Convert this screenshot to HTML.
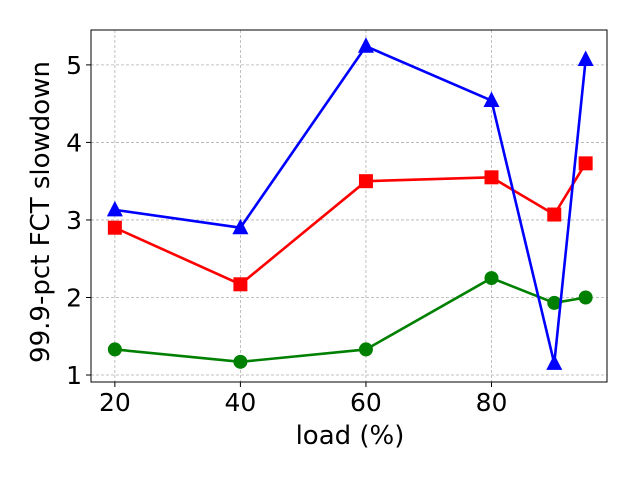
<!DOCTYPE html>
<html><head><meta charset="utf-8"><style>
body{margin:0;background:#fff;}
svg{display:block;font-family:"DejaVu Sans","Liberation Sans",sans-serif;}
</style></head><body>
<svg id="chart" width="640" height="480"></svg>
<script>
const loads=[20,40,60,80,90,95];
const blueSeries=[3.13,2.90,5.24,4.54,1.15,5.07];
const redSeries=[2.90,2.17,3.50,3.55,3.07,3.73];
const greenSeries=[1.33,1.17,1.33,2.25,1.93,2.00];
const xTicks=[20,40,60,80];
const yTicks=[1,2,3,4,5];

const L=91,R=607,T=30,B=382;
const xMin=16.2,xMax=98.4,yMin=0.91,yMax=5.45;
const xs=v=>L+(v-xMin)/(xMax-xMin)*(R-L);
const ys=v=>B-(v-yMin)/(yMax-yMin)*(B-T);
const svg=document.getElementById('chart');
const NS='http://www.w3.org/2000/svg';
function mk(tag,attrs,parent){const e=document.createElementNS(NS,tag);for(const k in attrs)e.setAttribute(k,attrs[k]);(parent||svg).appendChild(e);return e;}

const grid=mk('g',{});


xTicks.forEach(t=>{
  const l=mk('line',{x1:xs(t),x2:xs(t),y1:T,y2:B,stroke:'#b0b0b0','stroke-width':0.8,'stroke-dasharray':'3,2'},grid);
  
  
  const tk=mk('line',{x1:xs(t),x2:xs(t),y1:B,y2:B+5,stroke:'#000'});
  
  
  const tx=mk('text',{x:xs(t),y:B+29,'text-anchor':'middle','font-size':25});
  tx.textContent=t;
  
  
});
yTicks.forEach(t=>{
  const l=mk('line',{x1:L,x2:R,y1:ys(t),y2:ys(t),stroke:'#b0b0b0','stroke-width':0.8,'stroke-dasharray':'3,2'},grid);
  
  
  const tk=mk('line',{x1:L-5,x2:L,y1:ys(t),y2:ys(t),stroke:'#000'});
  
  
  const tx=mk('text',{x:L-9,y:ys(t)+9,'text-anchor':'end','font-size':25});
  tx.textContent=t;
  
  
});
const frame=mk('rect',{x:L,y:T,width:R-L,height:B-T,fill:'none',stroke:'#000','stroke-width':1});



function series(vals,color,marker,name){
  const g=mk('g',{});
  
  
  const pts=vals.map((v,i)=>xs(loads[i])+','+ys(v)).join(' ');
  const pl=mk('polyline',{points:pts,fill:'none',stroke:color,'stroke-width':2.6},g);
  
  
  vals.forEach((v,i)=>{
    const x=xs(loads[i]),y=ys(v);let m;
    if(marker==='circle')m=mk('circle',{cx:x,cy:y,r:7,fill:color},g);
    else if(marker==='square')m=mk('rect',{x:x-7,y:y-7,width:14,height:14,fill:color},g);
    else m=mk('polygon',{points:`${x},${y-9} ${x-8},${y+6.5} ${x+8},${y+6.5}`,fill:color},g);
    
    
  });
}
series(greenSeries,'#008000','circle','green-series');
series(redSeries,'#ff0000','square','red-series');
series(blueSeries,'#0000ff','triangle','blue-series');

const xl=mk('text',{x:(L+R)/2+1,y:444,'text-anchor':'middle','font-size':26});
xl.textContent='load (%)';


const yl=mk('text',{x:0,y:0,'text-anchor':'middle','font-size':26,transform:`translate(49,${(T+B)/2+6}) rotate(-90)`});
yl.textContent='99.9-pct FCT slowdown';


</script>
</body></html>
